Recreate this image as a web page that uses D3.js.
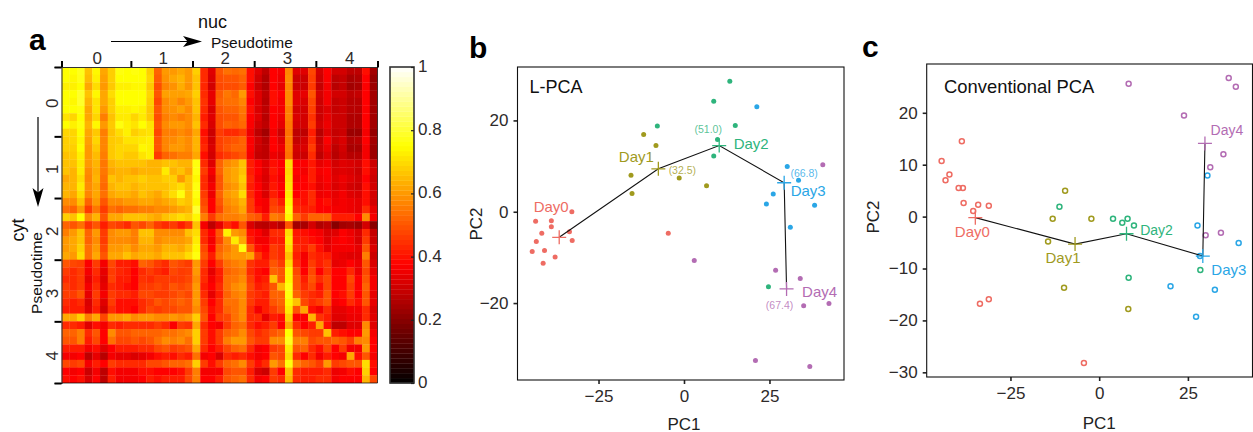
<!DOCTYPE html>
<html>
<head>
<meta charset="utf-8">
<script src="https://cdn.jsdelivr.net/npm/d3@7"></script>
<style>
  html, body { margin: 0; padding: 0; background: #fff; }
  svg { display: block; }
  text { font-family: "Liberation Sans", Arial, sans-serif; }
</style>
</head>
<body>
<div id="chart"></div>
<script>
// Panel a: correlation between nuc and cyt pseudotime bins, read by eye (x100)
const corrRows = [
  [75,75,78,66,74,62,68,76,75,76,75,68,52,60,60,62,60,68,44,33,50,54,53,54,40,33,28,38,36,57,33,33,48,31,38,31,31,28,28,39,24],
  [75,74,77,65,73,61,68,75,75,75,75,69,51,59,62,64,60,66,44,32,49,50,50,52,39,31,26,38,35,58,30,30,47,30,37,28,29,25,26,38,22],
  [73,73,75,62,70,60,67,73,73,74,74,67,49,57,59,63,59,66,43,31,48,49,49,51,38,30,26,38,34,57,30,30,46,29,36,27,29,24,25,37,23],
  [75,75,79,66,74,62,70,75,75,75,75,69,50,61,61,61,62,68,44,34,51,55,53,60,39,33,28,40,37,58,33,34,50,31,36,31,31,28,29,38,24],
  [75,74,79,64,71,62,68,75,75,75,75,68,48,58,60,57,60,66,45,34,52,54,54,57,38,33,27,39,36,58,33,32,48,30,36,29,30,27,27,38,24],
  [75,75,76,62,71,60,68,73,73,74,73,67,50,58,59,61,58,66,44,32,50,52,52,55,39,32,28,38,36,56,31,31,47,30,33,29,30,27,27,37,24],
  [71,69,75,62,69,56,66,72,72,69,72,67,49,56,58,56,58,64,42,33,49,50,50,54,38,33,27,38,35,56,32,31,45,30,34,30,30,26,26,38,24],
  [75,73,76,64,74,60,67,76,73,71,75,71,50,58,60,60,58,66,44,32,49,52,51,53,37,31,28,38,34,55,31,31,46,31,35,30,30,26,26,38,24],
  [69,69,75,62,67,56,66,70,73,68,70,71,48,56,56,58,56,62,40,30,46,44,44,46,35,28,24,36,30,54,28,28,42,27,33,29,30,23,23,36,22],
  [68,69,74,61,69,57,67,68,71,71,72,73,50,57,58,60,58,64,42,31,47,49,50,52,37,31,27,38,33,55,29,31,44,29,37,30,32,26,27,38,24],
  [68,68,75,60,67,57,67,69,69,69,74,73,50,57,60,60,58,64,43,32,47,50,52,52,37,30,28,38,35,55,31,32,46,30,35,28,31,25,25,36,23],
  [66,67,73,60,65,56,67,69,67,67,71,73,46,52,54,56,56,62,40,31,44,46,48,50,36,29,28,35,33,54,30,30,44,28,33,27,30,27,27,36,23],
  [66,66,72,60,64,55,64,66,66,66,66,64,64,66,66,64,64,76,44,33,52,58,60,66,42,37,33,40,38,70,37,37,41,34,36,31,33,32,31,39,30],
  [66,64,72,58,63,55,62,64,64,62,64,64,64,72,64,66,62,76,46,36,52,60,62,66,42,38,33,41,38,69,38,36,42,36,38,32,33,32,30,40,31],
  [62,64,70,57,64,54,66,64,66,66,68,66,66,68,68,60,66,74,44,34,50,60,62,68,43,36,32,40,36,70,36,38,42,35,37,33,35,33,31,38,30],
  [64,64,72,58,62,53,64,66,66,64,66,66,66,66,68,70,66,76,44,36,50,58,60,66,42,38,33,41,38,71,38,38,40,34,36,32,34,31,30,39,31],
  [64,62,70,57,62,54,62,64,64,62,66,64,62,66,70,76,66,76,46,35,52,60,62,70,44,37,32,42,38,72,38,40,44,35,36,34,36,33,32,40,31],
  [58,58,66,52,60,50,58,58,60,60,62,62,60,62,64,68,66,74,48,38,50,58,60,64,46,38,36,46,42,74,42,40,44,38,40,35,36,35,34,40,31],
  [54,52,60,46,55,46,54,52,54,54,56,56,58,58,60,62,64,80,50,38,48,56,58,62,46,40,36,48,46,76,44,42,42,38,38,36,36,35,34,44,34],
  [68,66,75,58,64,50,62,62,66,66,66,64,62,66,68,70,68,74,56,46,54,56,56,58,52,50,42,56,54,74,52,46,52,52,52,42,42,42,38,58,36],
  [52,50,54,45,50,42,48,46,44,50,48,52,46,44,46,42,46,66,36,28,34,44,40,50,32,28,27,30,27,50,24,25,31,26,28,20,24,25,23,31,20],
  [56,60,66,52,60,46,58,60,60,56,66,66,58,58,58,58,66,70,44,38,50,73,60,58,40,37,33,44,44,70,41,40,38,36,32,33,37,35,32,44,29],
  [60,62,66,52,58,46,58,58,58,56,64,64,58,60,60,60,62,72,44,36,48,58,72,62,42,36,36,42,42,72,42,42,40,38,33,36,38,36,32,46,30],
  [60,62,68,54,60,48,60,60,62,58,62,62,60,64,64,62,66,74,48,38,52,56,60,76,50,40,38,46,44,70,44,42,46,40,34,36,36,36,34,50,32],
  [62,60,70,54,62,50,62,62,66,62,64,64,62,66,66,66,70,76,50,42,54,58,60,60,62,46,40,46,44,66,42,36,44,42,42,35,34,33,33,56,30],
  [50,48,47,37,46,36,48,42,42,40,52,50,46,44,50,48,46,60,46,38,46,54,56,58,45,42,42,50,46,70,44,37,46,42,45,34,35,38,35,50,32],
  [46,44,46,36,44,34,46,43,42,38,44,46,44,42,48,46,47,60,44,34,42,52,54,56,44,40,38,52,50,74,48,38,48,38,45,38,38,43,35,48,34],
  [44,44,46,34,42,33,47,42,42,38,45,44,46,46,46,46,48,58,44,36,42,54,55,58,46,40,42,66,50,74,50,42,50,44,48,38,38,48,38,50,36],
  [46,44,46,36,44,34,44,42,40,38,46,46,48,46,50,48,50,60,42,38,44,54,58,60,48,42,44,50,64,76,50,44,48,40,48,38,38,46,38,52,36],
  [46,46,50,34,46,36,46,44,44,42,48,48,46,46,48,50,48,60,44,34,42,52,56,58,46,44,42,52,52,76,52,46,44,42,50,38,40,46,38,50,34],
  [44,42,44,32,44,33,46,40,40,40,44,46,50,48,50,52,50,60,46,38,44,54,54,58,46,42,42,50,52,74,66,48,44,46,50,36,38,44,40,50,34],
  [42,42,42,33,42,31,44,40,40,38,44,48,46,48,48,50,50,58,48,40,44,52,54,58,44,36,42,46,50,72,50,62,40,36,44,34,34,36,36,44,32],
  [62,62,68,56,62,48,60,60,62,58,60,60,58,58,60,58,60,68,50,38,46,48,54,58,44,44,34,42,40,68,37,37,64,45,42,33,33,35,35,44,33],
  [44,44,42,33,40,36,44,42,44,44,44,44,46,44,37,46,45,62,44,38,36,46,52,54,44,40,42,46,38,62,44,38,42,62,40,28,28,33,33,58,33],
  [52,52,56,44,50,38,58,50,50,52,52,52,52,54,54,56,58,68,46,40,46,52,54,58,48,44,46,50,52,75,50,48,46,46,66,42,40,38,38,60,36],
  [50,50,56,42,48,38,54,48,48,50,48,50,54,58,56,58,54,68,46,40,46,56,60,60,50,46,46,58,58,78,56,56,48,50,50,52,50,46,56,58,38],
  [42,42,42,36,40,33,38,42,42,42,44,44,48,50,46,48,50,62,44,38,42,48,52,54,44,36,38,46,48,72,50,52,44,40,48,38,46,36,36,60,38],
  [36,36,38,28,34,27,36,34,34,32,34,36,40,42,40,44,42,54,36,38,32,44,42,44,40,36,38,50,48,70,44,38,44,36,42,38,36,62,40,50,36],
  [48,46,48,36,42,38,46,44,44,44,44,48,48,50,52,52,54,68,46,40,46,52,54,58,46,40,44,60,54,76,56,52,50,46,60,46,48,50,50,70,40],
  [38,36,38,30,36,28,40,36,36,36,40,40,38,38,38,40,46,56,36,36,36,48,50,50,42,32,30,46,38,66,44,42,42,42,44,35,36,40,38,68,38],
  [40,38,40,32,38,28,42,36,36,36,38,42,40,42,42,42,48,56,38,38,42,50,52,54,44,36,38,46,44,64,44,42,42,44,44,36,38,38,38,64,48]
];
const binEdges = [0, 9, 17, 25, 33, 41];
const binLabels = ["0", "1", "2", "3", "4"];
const barTicks = [0, 0.2, 0.4, 0.6, 0.8, 1];

// Panels b and c: one [PC1, PC2] list per day
const dayNames = ["Day0", "Day1", "Day2", "Day3", "Day4"];
const dayColors = ["#ee6c63", "#a09a1e", "#2eb47c", "#2aa6e6", "#b36cb3"];

const lpcaPoints = [
  [[-32.8,0],[-43.4,-2.1],[-38.8,-2],[-38.8,-3.3],[-41.6,-4.7],[-33.5,-4.4],[-43.2,-6.5],[-32.7,-6.3],[-44.4,-8.7],[-40.8,-8.5],[-37.7,-9.9],[-41.2,-11.3],[-4.6,-4.7]],
  [[-11.8,16.9],[-8.2,14.5],[-15.5,8],[-15.2,4],[-1.4,7.4],[6.6,5.7]],
  [[13.4,28.6],[8.7,24.2],[-7.8,18.8],[15,18.9],[9.8,15.8],[8.7,12.2],[24.7,-16.4]],
  [[21.3,23],[30.2,9.9],[33.5,6.9],[26.1,3.9],[24.1,1.7],[38.2,1.4],[31.1,-3.4]],
  [[40.6,10.3],[3,-10.7],[26.8,-12.8],[34,-14.6],[35,-20.6],[42.4,-20.1],[20.9,-32.6],[36.8,-33.9]]
];
const lpcaCenters = [[-36.5,-5.6],[-7.5,9.4],[10.3,14.5],[29.3,6.35],[30,-16.9]];
const lpcaNotes = [null, "(32.5)", "(51.0)", "(66.8)", "(67.4)"];

const pcaPoints = [
  [[-38.7,14.5],[-44.4,10.7],[-42.2,8.1],[-43.3,7],[-39.6,5.5],[-38.4,5.5],[-38.2,2.6],[-34.1,2.3],[-31.1,2.1],[-35.5,1.1],[-33.6,-16.8],[-31.1,-15.9],[-4.3,-28.2]],
  [[-13.1,-0.4],[-14.4,-4.8],[-9.6,5],[-2.2,-0.4],[-9.9,-13.7],[8.2,-17.8]],
  [[-11.2,1.9],[3.9,-0.4],[6.5,-1.2],[8,-0.4],[9.8,-1.7],[28.5,-10.3],[8.3,-11.8]],
  [[30.5,7.9],[27.7,-1.7],[39.3,-5.1],[28.4,-7.6],[20.1,-13.4],[32.6,-14.1],[27.3,-19.3]],
  [[8.3,25.6],[36.5,26.7],[38.5,25],[23.9,19.5],[35,12],[31.3,9.5],[30,-3.6],[34.3,-3.1]]
];
const pcaCenters = [[-34.9,-0.2],[-6.8,-5.3],[7.7,-3.3],[29.2,-7.6],[29.8,14.1]];

const svg = d3.select("#chart").append("svg")
  .attr("width", 1253)
  .attr("height", 432);

const ink = "#2e2a2a";
const fmtMinus = d => String(d).replace("-", "\u2212");

// hot colormap, same stops as the colour bar
const hot = d3.scaleLinear()
  .domain([0, 0.375, 0.75, 1])
  .range(["#000000", "#ff0000", "#ffff00", "#ffffff"])
  .clamp(true);

const addText = (x, y, str, size, opts = {}) => svg.append("text")
  .attr("x", x).attr("y", y)
  .attr("font-size", size)
  .attr("fill", opts.fill || "#111")
  .attr("font-weight", opts.weight || "normal")
  .attr("text-anchor", opts.anchor || "start")
  .attr("transform", opts.rotate ? `rotate(${opts.rotate} ${x},${y})` : null)
  .text(str);

const arrow = (x1, y1, x2, y2) => {
  // simple stealth head, pointing from (x1,y1) to (x2,y2)
  const a = Math.atan2(y2 - y1, x2 - x1) * 180 / Math.PI;
  svg.append("line")
    .attr("x1", x1).attr("y1", y1).attr("x2", x2 - 6 * Math.cos(a * Math.PI / 180)).attr("y2", y2 - 6 * Math.sin(a * Math.PI / 180))
    .attr("stroke", "#000").attr("stroke-width", 1.2);
  svg.append("path")
    .attr("d", "M0,0L-19,-5.5L-14.5,0L-19,5.5Z")
    .attr("fill", "#000")
    .attr("transform", `translate(${x2},${y2}) rotate(${a})`);
};

const drawHeatmap = () => {
  const left = 61.5, top = 67, size = 316;
  const n = corrRows.length;
  const cell = d3.scaleBand().domain(d3.range(n)).range([0, size]);
  const edge = d3.scaleLinear().domain([0, n]).range([0, size]);

  const defs = svg.append("defs");
  defs.append("clipPath").attr("id", "heatClip")
    .append("rect").attr("width", size).attr("height", size);
  defs.append("filter").attr("id", "soften")
    .append("feGaussianBlur").attr("stdDeviation", 0.35);

  const g = svg.append("g").attr("transform", `translate(${left},${top})`);

  g.append("g").attr("clip-path", "url(#heatClip)")
    .append("g").attr("filter", "url(#soften)")
    .selectAll("g")
    .data(corrRows)
    .join("g")
    .attr("transform", (d, i) => `translate(0,${cell(i)})`)
    .selectAll("rect")
    .data(d => d)
    .join("rect")
    .attr("x", (d, i) => cell(i))
    .attr("width", cell.bandwidth() + 0.3)
    .attr("height", cell.bandwidth() + 0.3)
    .attr("fill", d => hot(d / 100));

  // top and left axes with ticks at the bin edges
  const axisT = d3.axisTop(edge).tickValues(binEdges).tickSize(6).tickFormat("");
  const axisL = d3.axisLeft(edge).tickValues(binEdges).tickSize(7).tickFormat("");
  const gt = g.append("g").call(axisT);
  const gl = g.append("g").call(axisL);
  [gt, gl].forEach(a => {
    a.select(".domain").attr("stroke", "#333").attr("stroke-width", 1.1);
    a.selectAll(".tick line").attr("stroke", "#000").attr("stroke-width", 2);
  });

  // faint closing lines on the right and bottom
  g.append("path")
    .attr("d", `M0,${size}H${size}V0`)
    .attr("fill", "none")
    .attr("stroke", "#000")
    .attr("stroke-opacity", 0.7)
    .attr("stroke-width", 1);

  binLabels.forEach((lab, i) => {
    const mid = (binEdges[i] + binEdges[i + 1]) / 2;
    addText(left + edge(mid) + 1 + i * 0.5, 64, lab, 17, { anchor: "middle", fill: ink });
    addText(58, top + edge(mid) + 1.5 + i * 0.5, lab, 17, { anchor: "middle", fill: ink, rotate: -90 });
  });

  addText(198, 28, "nuc", 18);
  addText(211, 48, "Pseudotime", 15.5);
  addText(24, 230, "cyt", 18, { anchor: "middle", rotate: -90 });
  addText(42, 273, "Pseudotime", 15.5, { anchor: "middle", rotate: -90 });

  arrow(111, 41.5, 202, 41.5);
  arrow(38, 117, 38, 207);
};

const drawColorBar = () => {
  const x0 = 390, w = 24, top = 67, bottom = 383;
  const levels = 64;
  const y = d3.scaleLinear().domain([0, 1]).range([bottom, top]);

  svg.append("g")
    .selectAll("rect")
    .data(d3.range(levels))
    .join("rect")
    .attr("x", x0)
    .attr("width", w)
    .attr("y", d => y((d + 1) / levels))
    .attr("height", (bottom - top) / levels + 0.3)
    .attr("fill", d => hot((d + 0.5) / levels));

  svg.append("rect")
    .attr("x", x0).attr("y", top).attr("width", w).attr("height", bottom - top)
    .attr("fill", "none").attr("stroke", "#333").attr("stroke-width", 1.6);

  const axis = d3.axisRight(y).tickValues(barTicks).tickSize(-3).tickPadding(7).tickFormat(d => d);
  const ga = svg.append("g")
    .attr("transform", `translate(${x0 + w},0)`)
    .call(axis);
  ga.select(".domain").remove();
  ga.selectAll(".tick line").attr("stroke", "#222").attr("stroke-width", 1.2);
  ga.selectAll("text")
    .attr("font-size", 17)
    .attr("fill", ink)
    .attr("font-family", "Liberation Sans")
    .attr("x", 4)
    .attr("dy", "0.26em");
};

// scatter panel with day centres joined by a line
const drawScatter = (cfg) => {
  const x = d3.scaleLinear().domain(cfg.xDomain).range([cfg.left, cfg.right]);
  const y = d3.scaleLinear().domain(cfg.yDomain).range([cfg.bottom, cfg.top]);

  const g = svg.append("g");

  g.append("g").attr("transform", `translate(0,${cfg.bottom})`)
    .call(d3.axisBottom(x).tickValues([-25, 0, 25]).tickSize(4).tickPadding(6).tickFormat(fmtMinus))
    .call(a => a.select(".domain").remove());
  g.append("g").attr("transform", `translate(${cfg.left},0)`)
    .call(d3.axisLeft(y).tickValues(cfg.yTicks).tickSize(4).tickPadding(5).tickFormat(fmtMinus))
    .call(a => a.select(".domain").remove());
  g.selectAll(".tick line").attr("stroke", "#222").attr("stroke-width", 1.6);
  g.selectAll(".tick text").attr("font-size", 17).attr("fill", ink).attr("font-family", "Liberation Sans");

  g.append("rect")
    .attr("x", cfg.left).attr("y", cfg.top)
    .attr("width", cfg.right - cfg.left).attr("height", cfg.bottom - cfg.top)
    .attr("fill", "none").attr("stroke", "#111").attr("stroke-width", 1.1);

  // points, one group per day
  cfg.points.forEach((pts, i) => {
    g.append("g").selectAll("circle")
      .data(pts)
      .join("circle")
      .attr("cx", d => x(d[0]))
      .attr("cy", d => y(d[1]))
      .attr("r", cfg.hollow ? 2.5 : 2.5)
      .attr("fill", cfg.hollow ? "none" : dayColors[i])
      .attr("stroke", cfg.hollow ? dayColors[i] : "none")
      .attr("stroke-width", 1.5);
  });

  const line = d3.line().x(d => x(d[0])).y(d => y(d[1]));
  g.append("path")
    .datum(cfg.centers)
    .attr("d", line)
    .attr("fill", "none")
    .attr("stroke", "#111")
    .attr("stroke-width", 1.1);

  g.append("g").selectAll("path")
    .data(cfg.centers)
    .join("path")
    .attr("d", "M-7,0H7M0,-7V7")
    .attr("transform", d => `translate(${x(d[0])},${y(d[1])})`)
    .attr("fill", "none")
    .attr("stroke", (d, i) => dayColors[i])
    .attr("stroke-width", 1.3);

  dayNames.forEach((name, i) => {
    const [dx, dy, fs] = cfg.labelOffsets[i];
    addText(x(cfg.centers[i][0]) + dx, y(cfg.centers[i][1]) + dy, name, fs, { anchor: "middle", fill: dayColors[i] });
    if (cfg.notes && cfg.notes[i]) {
      const [nx, ny] = cfg.noteOffsets[i];
      addText(x(cfg.centers[i][0]) + nx, y(cfg.centers[i][1]) + ny, cfg.notes[i], 10.5, { anchor: "middle", fill: dayColors[i] })
        .attr("fill-opacity", 0.8);
    }
  });

  addText(cfg.titleX, cfg.titleY, cfg.title, cfg.titleSize);
  addText((x(0)), cfg.xLabelY, "PC1", 17, { anchor: "middle", fill: "#222" });
  addText(cfg.yLabelX, cfg.yLabelMid, "PC2", 17, { anchor: "middle", fill: "#222", rotate: -90 });
};

drawHeatmap();
drawColorBar();

drawScatter({
  left: 517.5, right: 844, top: 67, bottom: 380,
  xDomain: [-48.7, 46.8], yDomain: [-36.85, 31.7], yTicks: [-20, 0, 20],
  points: lpcaPoints, centers: lpcaCenters, hollow: false,
  labelOffsets: [[-8, -25, 15], [-22, -7, 15], [32, 3, 15], [24, 13, 15], [33, 8, 15]],
  notes: lpcaNotes,
  noteOffsets: [null, [24, 5], [-11, -13], [20, -6], [-7, 20]],
  title: "L-PCA", titleX: 529.5, titleY: 93, titleSize: 18,
  xLabelY: 429.5, yLabelX: 482, yLabelMid: 224
});

drawScatter({
  left: 926.7, right: 1252.5, top: 64, bottom: 377,
  xDomain: [-48.6, 43.2], yDomain: [-30.9, 29.4], yTicks: [-30, -20, -10, 0, 10, 20],
  points: pcaPoints, centers: pcaCenters, hollow: true,
  labelOffsets: [[-3, 19, 15], [-12, 19, 15], [30, 1, 14], [26, 19, 15], [22, -8, 14]],
  title: "Conventional PCA", titleX: 944, titleY: 93, titleSize: 18.4,
  xLabelY: 429, yLabelX: 879, yLabelMid: 217
});

addText(29, 50, "a", 30, { weight: "bold", fill: "#000" });
addText(469, 58, "b", 30, { weight: "bold", fill: "#000" });
addText(862, 57, "c", 30, { weight: "bold", fill: "#000" });
</script>
</body>
</html>
